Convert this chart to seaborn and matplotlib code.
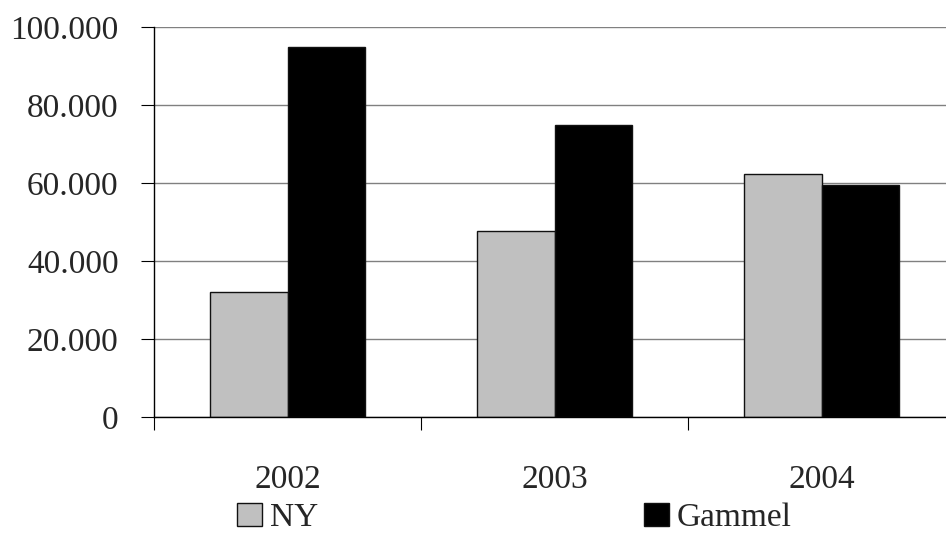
import matplotlib
matplotlib.use("Agg")
import matplotlib.pyplot as plt
import matplotlib.ticker as mticker
import seaborn as sns
import pandas as pd

years = ["2002", "2003", "2004"]
ny_values = [32000, 47700, 62300]
gammel_values = [95000, 75000, 59500]
series_names = ["NY", "Gammel"]
y_ticks = [0, 20000, 40000, 60000, 80000, 100000]

df = pd.DataFrame({
    "year": years * 2,
    "value": ny_values + gammel_values,
    "series": [series_names[0]] * len(years) + [series_names[1]] * len(years),
})

sns.set_theme(style="white")
plt.rcParams["font.family"] = ["Liberation Serif", "DejaVu Serif"]

fig = plt.figure(figsize=(9.46, 5.34), dpi=100)
ax = fig.add_axes([154 / 946, 117 / 534, 801 / 946, 390 / 534])

sns.barplot(
    data=df, x="year", y="value", hue="series", order=years,
    hue_order=series_names,
    palette={"NY": "#c0c0c0", "Gammel": "#000000"},
    width=0.577, edgecolor="#111111", linewidth=1.0, saturation=1,
    ax=ax, legend=False,
)

ax.set_xlim(-0.5, len(years) - 0.5)
ax.set_ylim(0, 100000)
ax.set_yticks(y_ticks)
ax.yaxis.set_major_formatter(
    mticker.FuncFormatter(lambda v, _: f"{v:,.0f}".replace(",", "."))
)
ax.grid(axis="y", color="#808080", linewidth=1.0)
ax.set_axisbelow(True)
ax.set_xlabel("")
ax.set_ylabel("")

for side in ("top", "right"):
    ax.spines[side].set_visible(False)
for side in ("left", "bottom"):
    ax.spines[side].set_color("black")
    ax.spines[side].set_linewidth(1.0)

ax.tick_params(axis="y", which="major", length=9.4, width=0.8, color="black",
               pad=16, labelsize=24, direction="out", left=True)
ax.tick_params(axis="x", which="major", length=0, pad=34, labelsize=24)
ax.set_xticks([-0.5, 0.5, 1.5], minor=True)
ax.tick_params(axis="x", which="minor", length=9.4, width=0.8, color="black",
               direction="out", bottom=True)

handles = [
    plt.Rectangle((0, 0), 1, 1, facecolor="#c0c0c0", edgecolor="#111111", linewidth=1.0),
    plt.Rectangle((0, 0), 1, 1, facecolor="#000000", edgecolor="#111111", linewidth=1.0),
]
fig.legend(
    handles, series_names, loc="lower left", bbox_to_anchor=(237 / 946, 0.002),
    ncol=2, frameon=False, fontsize=24, handlelength=0.75, handleheight=0.7,
    handletextpad=0.25, columnspacing=9.75, borderaxespad=0, borderpad=0,
)

fig.savefig("out.png", dpi=100)
